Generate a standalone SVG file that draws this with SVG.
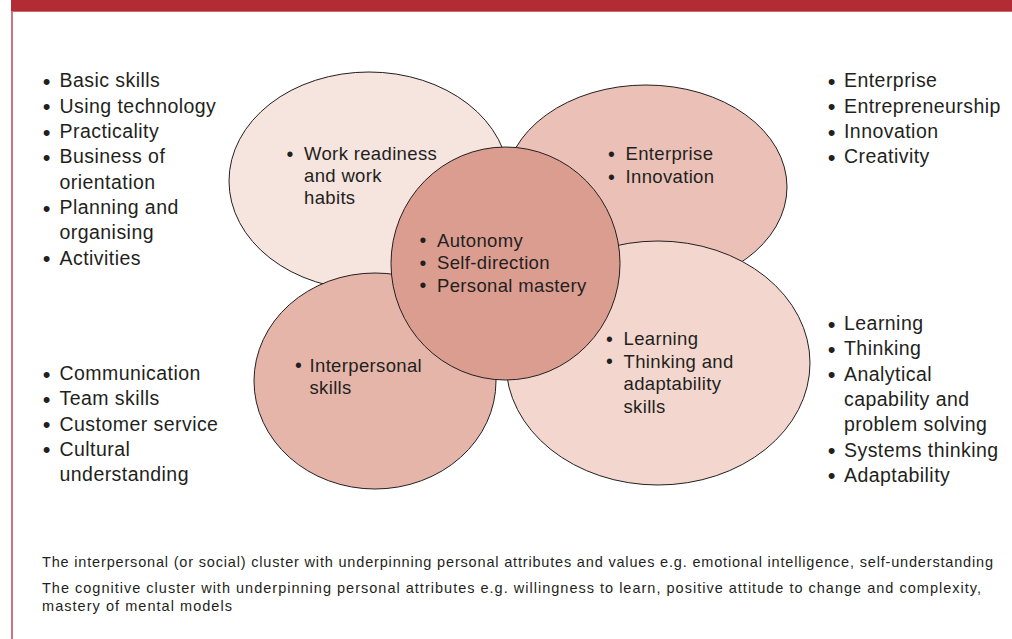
<svg xmlns="http://www.w3.org/2000/svg" width="1012" height="639" viewBox="0 0 1012 639">
<style>
text{font-family:"Liberation Sans",Arial,Helvetica,sans-serif;fill:#231f20}
.o{font-size:19.5px;letter-spacing:0.45px}
.i{font-size:18.5px;letter-spacing:0.35px}
.b{font-size:22px;letter-spacing:0;text-anchor:middle}
.bi{font-size:19.5px;letter-spacing:0;text-anchor:middle}
.f{font-size:14.5px}
.e{stroke:#231f20;stroke-width:1}
</style>
<rect x="0" y="0" width="1012" height="639" fill="#ffffff"/>
<rect x="11" y="0" width="1001" height="11.7" fill="#b32c35"/>
<line x1="12" y1="11" x2="12" y2="639" stroke="#d0737b" stroke-width="2"/>

<g id="connectors"></g>

<g id="node-work-readiness">
<ellipse class="e" cx="369" cy="181" rx="140" ry="109" fill="#f6e4df"/>
<text class="i"><tspan class="bi" x="290" y="160.7">•</tspan><tspan x="304" y="160">Work readiness</tspan></text>
<text class="i" x="304" y="182">and work</text>
<text class="i" x="304" y="204">habits</text>
</g>

<g id="node-enterprise">
<ellipse class="e" cx="646" cy="187" rx="141" ry="102" fill="#ebc1b7"/>
<text class="i"><tspan class="bi" x="611.5" y="160.7">•</tspan><tspan x="625.5" y="160">Enterprise</tspan></text>
<text class="i"><tspan class="bi" x="611.5" y="183.7">•</tspan><tspan x="625.5" y="183">Innovation</tspan></text>
</g>

<g id="node-learning">
<ellipse class="e" cx="658" cy="363" rx="152" ry="122" fill="#f3d7cf"/>
<text class="i"><tspan class="bi" x="609.5" y="345.7">•</tspan><tspan x="623.5" y="345">Learning</tspan></text>
<text class="i"><tspan class="bi" x="609.5" y="368.2">•</tspan><tspan x="623.5" y="367.5">Thinking and</tspan></text>
<text class="i" x="623.5" y="390">adaptability</text>
<text class="i" x="623.5" y="412.5">skills</text>
</g>

<g id="node-interpersonal">
<ellipse class="e" cx="375" cy="381" rx="121" ry="108" fill="#e5b5aa"/>
<text class="i"><tspan class="bi" x="298.5" y="372.2">•</tspan><tspan x="309.5" y="371.5">Interpersonal</tspan></text>
<text class="i" x="309.5" y="394">skills</text>
</g>

<g id="node-autonomy">
<ellipse class="e" cx="505.5" cy="263.5" rx="114.5" ry="116.5" fill="#dc9d91"/>
<text class="i"><tspan class="bi" x="423" y="247.2">•</tspan><tspan x="437" y="246.5">Autonomy</tspan></text>
<text class="i"><tspan class="bi" x="423" y="269.7">•</tspan><tspan x="437" y="269">Self-direction</tspan></text>
<text class="i"><tspan class="bi" x="423" y="292.2">•</tspan><tspan x="437" y="291.5">Personal mastery</tspan></text>
</g>

<g id="list-top-left">
<text class="o"><tspan class="b" x="46.5" y="88.8">•</tspan><tspan x="59.5" y="87.3">Basic skills</tspan></text>
<text class="o"><tspan class="b" x="46.5" y="114.2">•</tspan><tspan x="59.5" y="112.7">Using technology</tspan></text>
<text class="o"><tspan class="b" x="46.5" y="139.5">•</tspan><tspan x="59.5" y="138">Practicality</tspan></text>
<text class="o"><tspan class="b" x="46.5" y="164.8">•</tspan><tspan x="59.5" y="163.3">Business of</tspan></text>
<text class="o" x="59.5" y="188.7">orientation</text>
<text class="o"><tspan class="b" x="46.5" y="215.5">•</tspan><tspan x="59.5" y="214">Planning and</tspan></text>
<text class="o" x="59.5" y="239.4">organising</text>
<text class="o"><tspan class="b" x="46.5" y="266.2">•</tspan><tspan x="59.5" y="264.7">Activities</tspan></text>
</g>

<g id="list-top-right">
<text class="o"><tspan class="b" x="831.5" y="88.8">•</tspan><tspan x="844" y="87.3">Enterprise</tspan></text>
<text class="o"><tspan class="b" x="831.5" y="114.2">•</tspan><tspan x="844" y="112.7">Entrepreneurship</tspan></text>
<text class="o"><tspan class="b" x="831.5" y="139.5">•</tspan><tspan x="844" y="138">Innovation</tspan></text>
<text class="o"><tspan class="b" x="831.5" y="164.8">•</tspan><tspan x="844" y="163.3">Creativity</tspan></text>
</g>

<g id="list-bottom-left">
<text class="o"><tspan class="b" x="46.5" y="381.5">•</tspan><tspan x="59.5" y="380">Communication</tspan></text>
<text class="o"><tspan class="b" x="46.5" y="406.8">•</tspan><tspan x="59.5" y="405.3">Team skills</tspan></text>
<text class="o"><tspan class="b" x="46.5" y="432.1">•</tspan><tspan x="59.5" y="430.6">Customer service</tspan></text>
<text class="o"><tspan class="b" x="46.5" y="457.4">•</tspan><tspan x="59.5" y="455.9">Cultural</tspan></text>
<text class="o" x="59.5" y="481.2">understanding</text>
</g>

<g id="list-bottom-right">
<text class="o"><tspan class="b" x="831.5" y="331.5">•</tspan><tspan x="844" y="330">Learning</tspan></text>
<text class="o"><tspan class="b" x="831.5" y="356.8">•</tspan><tspan x="844" y="355.3">Thinking</tspan></text>
<text class="o"><tspan class="b" x="831.5" y="382.1">•</tspan><tspan x="844" y="380.6">Analytical</tspan></text>
<text class="o" x="844" y="405.9">capability and</text>
<text class="o" x="844" y="431.2">problem solving</text>
<text class="o"><tspan class="b" x="831.5" y="458">•</tspan><tspan x="844" y="456.5">Systems thinking</tspan></text>
<text class="o"><tspan class="b" x="831.5" y="483.3">•</tspan><tspan x="844" y="481.8">Adaptability</tspan></text>
</g>

<g id="notes">
<text class="f" x="42" y="566.7" textLength="951" lengthAdjust="spacing">The interpersonal (or social) cluster with underpinning personal attributes and values e.g. emotional intelligence, self-understanding</text>
<text class="f" x="42" y="592.7" textLength="939" lengthAdjust="spacing">The cognitive cluster with underpinning personal attributes e.g. willingness to learn, positive attitude to change and complexity,</text>
<text class="f" x="42" y="610.7" textLength="190" lengthAdjust="spacing">mastery of mental models</text>
</g>
</svg>
